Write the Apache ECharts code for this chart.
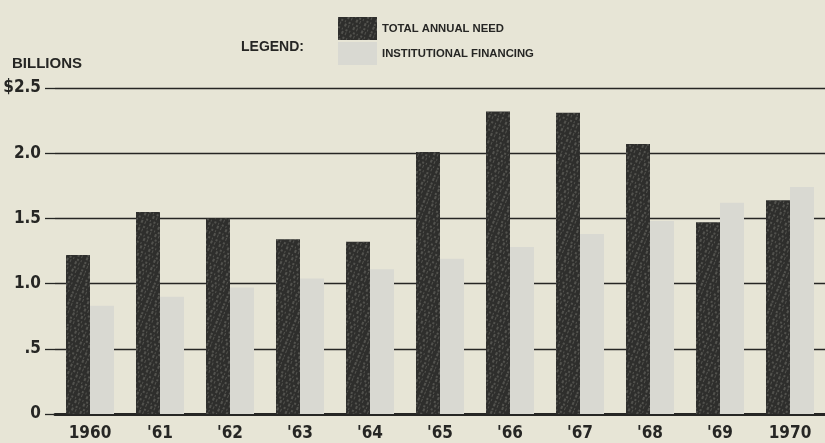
<!DOCTYPE html>
<html>
<head>
<meta charset="utf-8">
<script src="https://cdn.jsdelivr.net/npm/echarts@6/dist/echarts.min.js"></script>
<style>
  html, body { margin: 0; padding: 0; background: #e7e5d6; }
  #chart { width: 825px; height: 443px; }
</style>
</head>
<body>
<div id="chart"></div>
<script>
// Yearly figures, billions of dollars
const years = ['1960', "'61", "'62", "'63", "'64", "'65", "'66", "'67", "'68", "'69", '1970'];
const totalAnnualNeed = [1.22, 1.55, 1.50, 1.34, 1.32, 2.01, 2.32, 2.31, 2.07, 1.47, 1.64];
const institutionalFinancing = [0.83, 0.90, 0.97, 1.04, 1.11, 1.19, 1.28, 1.38, 1.48, 1.62, 1.74];
const yTickLabels = ['0', '.5', '1.0', '1.5', '2.0', '$2.5'];

const ink = '#262624';
const darkFill = '#2e2e2c';
const lightFill = '#d9d9d2';
const narrow = "'Liberation Sans Narrow', 'DejaVu Sans Condensed', sans-serif";
const bold = "'Liberation Sans', Arial, sans-serif";

// speckled print texture on the dark bars
const grain = {
  symbol: 'rect',
  symbolSize: 1,
  color: 'rgba(150,150,140,0.35)',
  dashArrayX: [[1, 3, 2, 2], [2, 2, 1, 4]],
  dashArrayY: [2, 1, 3, 2],
  rotation: 0.4
};

const chart = echarts.init(document.getElementById('chart'), null, { renderer: 'canvas' });

chart.setOption({
  backgroundColor: '#e7e5d6',
  animation: false,
  title: [
    {
      text: 'BILLIONS', left: 7, top: 51,
      textStyle: { fontFamily: bold, fontWeight: 'bold', fontSize: 15, color: ink }
    },
    {
      text: 'LEGEND:', left: 236, top: 35,
      textStyle: { fontFamily: bold, fontWeight: 'bold', fontSize: 14, color: ink }
    }
  ],
  legend: {
    orient: 'vertical',
    left: 333,
    top: 12,
    itemWidth: 39,
    itemHeight: 23,
    itemGap: 2,
    icon: 'rect',
    textStyle: { fontFamily: bold, fontWeight: 'bold', fontSize: 11.3, color: ink },
    data: ['TOTAL ANNUAL NEED', 'INSTITUTIONAL FINANCING']
  },
  grid: { left: 55, top: 88, width: 773, bottom: 29, containLabel: false },
  xAxis: {
    type: 'category',
    data: years,
    axisTick: { show: false },
    axisLine: { show: true, lineStyle: { color: ink, width: 3 } },
    axisLabel: {
      margin: 11,
      fontFamily: narrow, fontWeight: 'bold', fontSize: 17, color: ink
    },
    splitLine: { show: false }
  },
  yAxis: {
    type: 'value',
    min: 0,
    max: 2.5,
    interval: 0.5,
    axisLine: { show: false },
    axisTick: { show: true, inside: false, length: 10, lineStyle: { color: ink, width: 1.3 } },
    splitLine: { show: true, lineStyle: { color: ink, width: 1.3 } },
    axisLabel: {
      margin: 14,
      fontFamily: narrow, fontWeight: 'bold', fontSize: 17, color: ink,
      formatter: (v) => yTickLabels[Math.round(v / 0.5)]
    }
  },
  series: [
    {
      name: 'TOTAL ANNUAL NEED',
      type: 'bar',
      data: totalAnnualNeed,
      barWidth: 24,
      barGap: '0%',
      itemStyle: { color: darkFill, decal: grain }
    },
    {
      name: 'INSTITUTIONAL FINANCING',
      type: 'bar',
      data: institutionalFinancing,
      barWidth: 24,
      barGap: '0%',
      itemStyle: { color: lightFill }
    }
  ]
});
</script>
</body>
</html>
